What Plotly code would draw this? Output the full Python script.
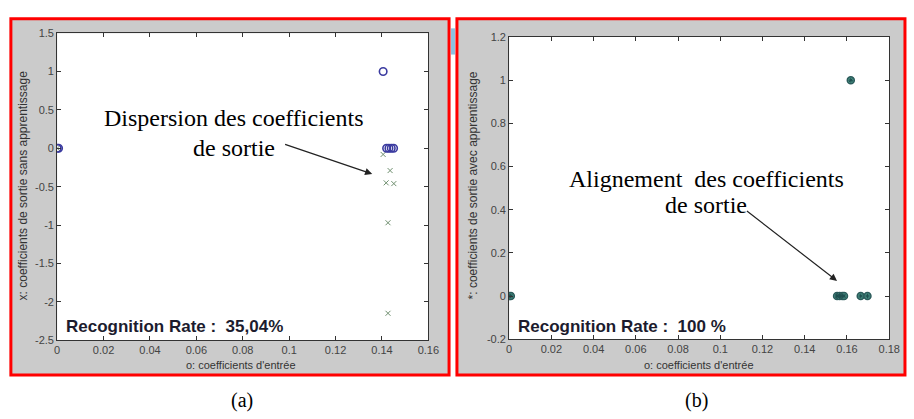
import plotly.graph_objects as go

W, H = 914, 419

# ---- data ----
left_in_x = [0.0, 0.0006, 0.1405, 0.1420, 0.1430, 0.1440, 0.1450]
left_in_y = [0, 0, 1, 0, 0, 0, 0]
left_out_x = [0.0, 0.1405, 0.1435, 0.1418, 0.1451, 0.1426, 0.1426]
left_out_y = [0, -0.08, -0.29, -0.45, -0.46, -0.97, -2.15]

right_in_x = [0.0, 0.0008, 0.1553, 0.1565, 0.1578, 0.1586, 0.1665, 0.1697, 0.1618]
right_in_y = [0, 0, 0, 0, 0, 0, 0, 0, 1]
right_out_x = right_in_x
right_out_y = right_in_y

left_xticks = [0, 0.02, 0.04, 0.06, 0.08, 0.1, 0.12, 0.14, 0.16]
left_xtext = ["0", "0.02", "0.04", "0.06", "0.08", "0.1", "0.12", "0.14", "0.16"]
left_yticks = [1.5, 1, 0.5, 0, -0.5, -1, -1.5, -2, -2.5]
left_ytext = ["1.5", "1", "0.5", "0", "-0.5", "-1", "-1.5", "-2", "-2.5"]
right_xticks = [0, 0.02, 0.04, 0.06, 0.08, 0.1, 0.12, 0.14, 0.16, 0.18]
right_xtext = ["0", "0.02", "0.04", "0.06", "0.08", "0.1", "0.12", "0.14", "0.16", "0.18"]
right_yticks = [-0.2, 0, 0.2, 0.4, 0.6, 0.8, 1, 1.2]
right_ytext = ["-0.2", "0", "0.2", "0.4", "0.6", "0.8", "1", "1.2"]


def px(x):
    return x / W


def py(y):
    return 1 - y / H


fig = go.Figure()

fig.add_trace(go.Scatter(x=left_out_x, y=left_out_y, mode="markers", xaxis="x", yaxis="y",
                         marker=dict(symbol="x-thin-open", size=5, color="#6f8f6f",
                                     line=dict(width=1, color="#6f8f6f")), showlegend=False))
fig.add_trace(go.Scatter(x=left_in_x, y=left_in_y, mode="markers", xaxis="x", yaxis="y",
                         marker=dict(symbol="circle-open", size=7.5, color="#3b3ba0",
                                     line=dict(width=1.6, color="#3b3ba0")), showlegend=False))

fig.add_trace(go.Scatter(x=right_in_x, y=right_in_y, mode="markers", xaxis="x2", yaxis="y2",
                         marker=dict(symbol="circle", size=7, color="#4f9a8c",
                                     line=dict(width=1.5, color="#2b5a5a")), showlegend=False))
fig.add_trace(go.Scatter(x=right_out_x, y=right_out_y, mode="markers", xaxis="x2", yaxis="y2",
                         marker=dict(symbol="asterisk-open", size=4, color="#1f4f4f",
                                     line=dict(width=1, color="#1f4f4f")), showlegend=False))

axis_common = dict(showgrid=False, zeroline=False, ticks="inside", ticklen=4,
                   tickcolor="#333", showline=True, linecolor="#333", linewidth=1,
                   mirror="ticks", tickfont=dict(family="Arial, Liberation Sans", size=11, color="#444"))

fig.update_layout(
    width=W, height=H,
    margin=dict(l=0, r=0, t=0, b=0),
    paper_bgcolor="white",
    plot_bgcolor="white",
    xaxis=dict(domain=[px(55), px(432)], range=[0, 0.16], tickvals=left_xticks,
               ticktext=left_xtext, anchor="y", **axis_common),
    yaxis=dict(domain=[py(344), py(28)], range=[-2.5, 1.5], tickvals=left_yticks,
               ticktext=left_ytext, anchor="x", **axis_common),
    xaxis2=dict(domain=[px(514), px(900)], range=[0, 0.18], tickvals=right_xticks,
                ticktext=right_xtext, anchor="y2", **axis_common),
    yaxis2=dict(domain=[py(343), py(32)], range=[-0.2, 1.2], tickvals=right_yticks,
                ticktext=right_ytext, anchor="x2", **axis_common),
)

# panel backgrounds with red borders, white plot areas
shapes = [
    dict(type="rect", xref="paper", yref="paper", x0=px(8), x1=px(453), y0=py(380), y1=py(13),
         fillcolor="#cbcbcb", line=dict(color="#ff0000", width=3), layer="below"),
    dict(type="rect", xref="paper", yref="paper", x0=px(461), x1=px(916), y0=py(380), y1=py(13),
         fillcolor="#cbcbcb", line=dict(color="#ff0000", width=3), layer="below"),
    dict(type="rect", xref="paper", yref="paper", x0=px(455), x1=px(459), y0=py(50), y1=py(23),
         fillcolor="#8cc0e0", line=dict(width=0), layer="below"),
    dict(type="rect", xref="x domain", yref="y domain", x0=0, x1=1, y0=0, y1=1,
         fillcolor="white", line=dict(width=0), layer="below"),
    dict(type="rect", xref="x2 domain", yref="y2 domain", x0=0, x1=1, y0=0, y1=1,
         fillcolor="white", line=dict(width=0), layer="below"),
]
fig.update_layout(shapes=shapes)

serif = "Times New Roman, Liberation Serif, serif"
sans = "Arial, Liberation Sans, sans-serif"
ann = []
# annotation texts
ann.append(dict(xref="paper", yref="paper", x=px(235), y=py(115), text="Dispersion des coefficients",
                showarrow=False, font=dict(family=serif, size=24, color="black"), xanchor="center", yanchor="middle"))
ann.append(dict(xref="paper", yref="paper", x=px(235), y=py(146), text="de sortie",
                showarrow=False, font=dict(family=serif, size=24, color="black"), xanchor="center", yanchor="middle"))
ann.append(dict(xref="paper", yref="paper", x=px(714), y=py(178), text="Alignement\u00a0 des coefficients",
                showarrow=False, font=dict(family=serif, size=24, color="black"), xanchor="center", yanchor="middle"))
ann.append(dict(xref="paper", yref="paper", x=px(714), y=py(205), text="de sortie",
                showarrow=False, font=dict(family=serif, size=24, color="black"), xanchor="center", yanchor="middle"))
# arrows
ann.append(dict(xref="x", yref="y", axref="x", ayref="y", x=0.1358, y=-0.335, ax=0.0976, ay=0.057,
                text="", showarrow=True, arrowhead=2, arrowsize=1.2, arrowwidth=1.2, arrowcolor="#222"))
ann.append(dict(xref="x2", yref="y2", axref="x2", ayref="y2", x=0.1553, y=0.070, ax=0.1119, ay=0.399,
                text="", showarrow=True, arrowhead=2, arrowsize=1.2, arrowwidth=1.2, arrowcolor="#222"))
# recognition rates
ann.append(dict(xref="paper", yref="paper", x=px(62), y=py(330), text="<b>Recognition Rate :\u00a0 35,04%</b>",
                showarrow=False, font=dict(family=sans, size=17, color="#1c1c2e"), xanchor="left", yanchor="middle"))
ann.append(dict(xref="paper", yref="paper", x=px(521), y=py(330), text="<b>Recognition Rate :\u00a0 100 %</b>",
                showarrow=False, font=dict(family=sans, size=17, color="#1c1c2e"), xanchor="left", yanchor="middle"))
# axis titles
ann.append(dict(xref="paper", yref="paper", x=px(242), y=py(370), text="o: coefficients d'entrée",
                showarrow=False, font=dict(family=sans, size=11, color="#333"), xanchor="center", yanchor="middle"))
ann.append(dict(xref="paper", yref="paper", x=px(707), y=py(370), text="o: coefficients d'entrée",
                showarrow=False, font=dict(family=sans, size=11, color="#333"), xanchor="center", yanchor="middle"))
ann.append(dict(xref="paper", yref="paper", x=px(20), y=py(185), text="x: coefficients de sortie sans apprentissage",
                showarrow=False, textangle=-90, font=dict(family=sans, size=12, color="#333"),
                xanchor="center", yanchor="middle"))
ann.append(dict(xref="paper", yref="paper", x=px(477), y=py(185), text="*: coefficients de sortie avec apprentissage",
                showarrow=False, textangle=-90, font=dict(family=sans, size=12, color="#333"),
                xanchor="center", yanchor="middle"))
# captions
ann.append(dict(xref="paper", yref="paper", x=px(243), y=py(406), text="(a)",
                showarrow=False, font=dict(family=serif, size=20, color="black"), xanchor="center", yanchor="middle"))
ann.append(dict(xref="paper", yref="paper", x=px(704), y=py(406), text="(b)",
                showarrow=False, font=dict(family=serif, size=20, color="black"), xanchor="center", yanchor="middle"))
fig.update_layout(annotations=ann)

fig.write_html("out.html", config={"displayModeBar": False},
               post_script="document.body.style.margin='0';document.body.style.overflow='hidden';")
